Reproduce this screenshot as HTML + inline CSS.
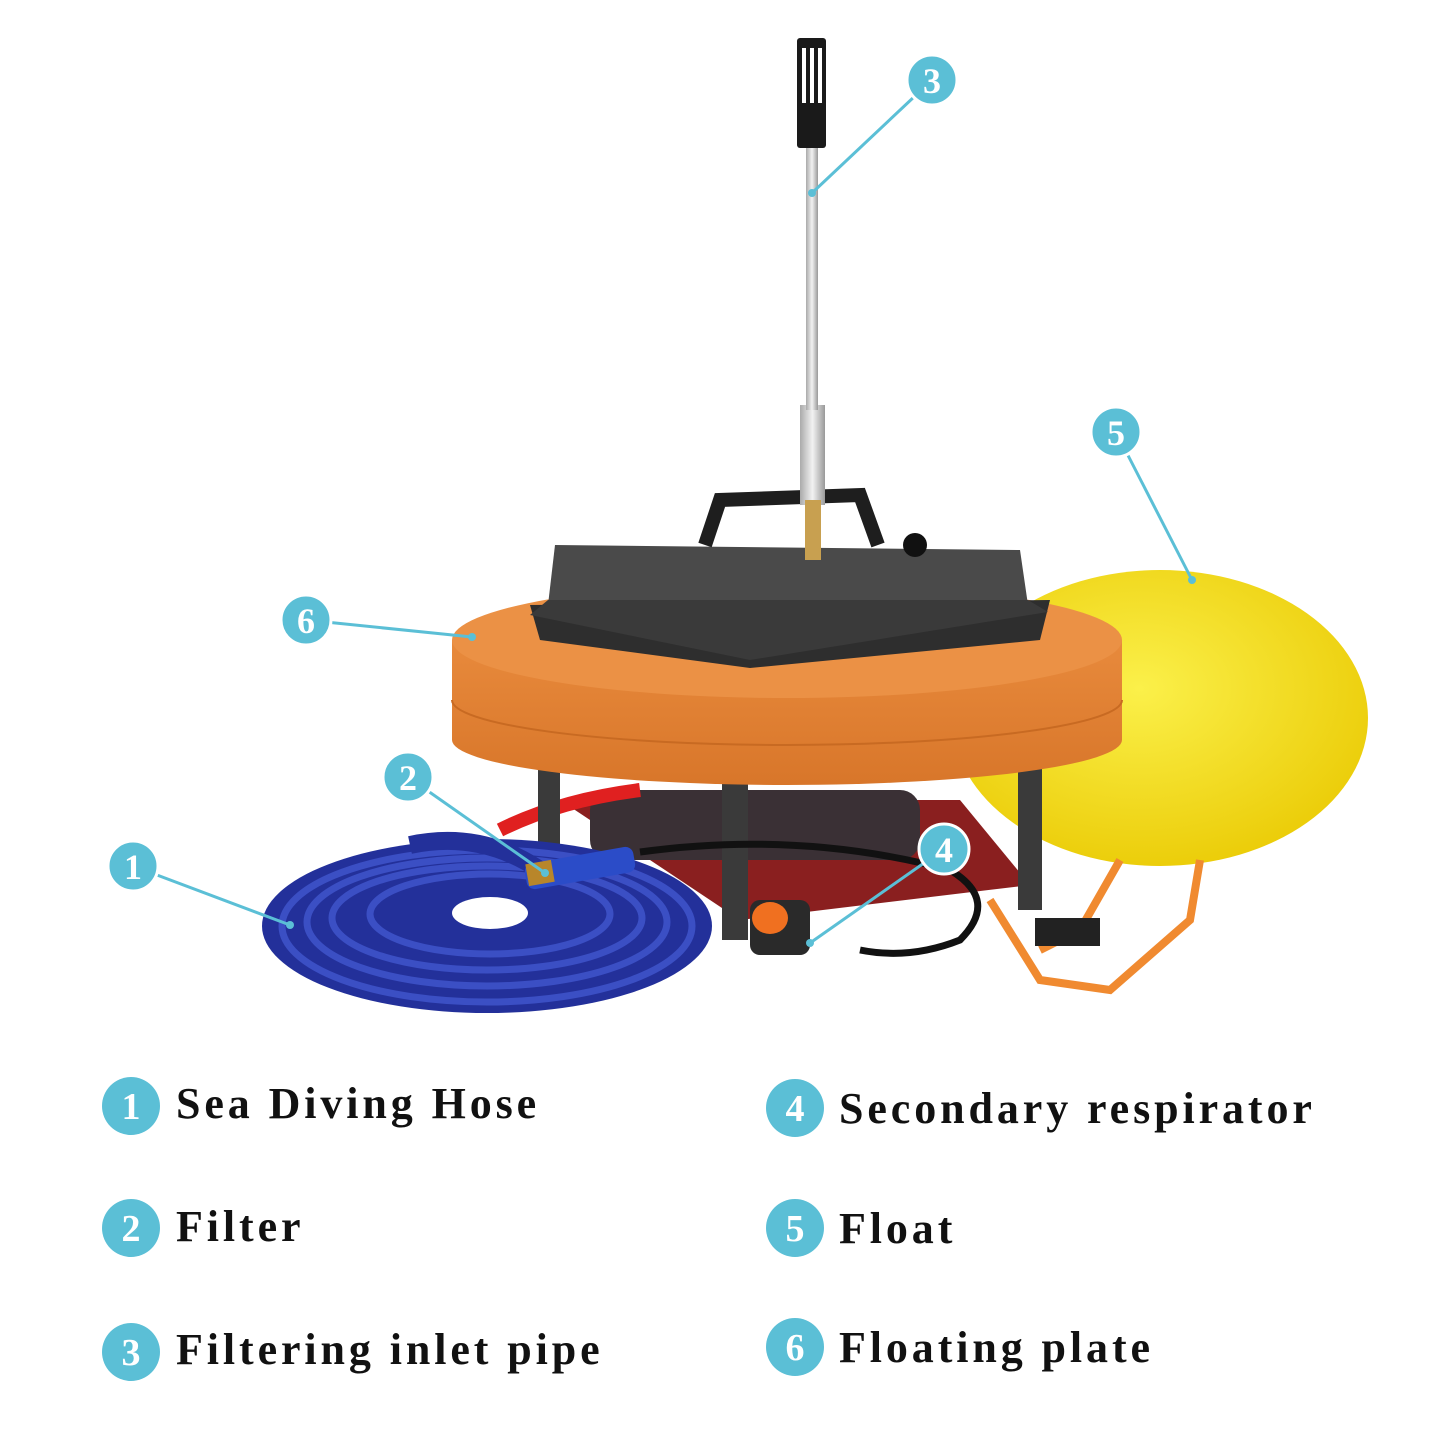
<!DOCTYPE html>
<html><head><meta charset="utf-8"><style>
html,body{margin:0;padding:0;background:#fff}
svg{display:block}
</style></head><body>
<svg width="1445" height="1445" viewBox="0 0 1445 1445" xmlns="http://www.w3.org/2000/svg">
<defs>
<radialGradient id="yel" cx="0.45" cy="0.4" r="0.7"><stop offset="0" stop-color="#fbf04a"/><stop offset="1" stop-color="#e9c800"/></radialGradient>
<linearGradient id="org" x1="0" x2="0" y1="0" y2="1"><stop offset="0" stop-color="#e88a3c"/><stop offset="1" stop-color="#d8762a"/></linearGradient>
<linearGradient id="rod" x1="0" x2="1"><stop offset="0" stop-color="#aaa"/><stop offset="0.5" stop-color="#f2f2f2"/><stop offset="1" stop-color="#999"/></linearGradient>
</defs>
<ellipse cx="1160" cy="718" rx="208" ry="148" fill="url(#yel)"/>
<path d="M1120 860 L1080 930 L1040 950 M1200 860 L1190 920 L1110 990 L1040 980 L990 900" stroke="#f08a30" stroke-width="8" fill="none"/>
<rect x="1035" y="918" width="65" height="28" fill="#222"/>
<polygon points="560,800 960,800 1030,885 740,920" fill="#8a1f1f"/>
<rect x="590" y="790" width="330" height="70" rx="20" fill="#3a3035"/>
<path d="M500 830 Q560 800 640 790" stroke="#e02020" stroke-width="14" fill="none"/>
<rect x="538" y="750" width="22" height="110" fill="#3a3a3a"/>
<rect x="722" y="760" width="26" height="180" fill="#3a3a3a"/>
<rect x="1018" y="750" width="24" height="160" fill="#3a3a3a"/>
<path d="M640 852 Q800 830 950 870 Q1000 900 960 940 Q910 960 860 950" stroke="#111" stroke-width="7" fill="none"/>
<rect x="750" y="900" width="60" height="55" rx="10" fill="#2a2a2a"/>
<ellipse cx="770" cy="918" rx="18" ry="16" fill="#f07020"/>
<ellipse cx="487" cy="926" rx="225" ry="87" fill="#23309a"/>
<g fill="none" stroke="#3b4fc4" stroke-width="7">
<ellipse cx="487" cy="926" rx="205" ry="76"/>
<ellipse cx="487" cy="922" rx="180" ry="64"/>
<ellipse cx="487" cy="918" rx="155" ry="52"/>
<ellipse cx="490" cy="914" rx="120" ry="40"/>
</g>
<ellipse cx="490" cy="913" rx="38" ry="16" fill="#fff"/>
<path d="M410 845 Q480 830 540 870" stroke="#23309a" stroke-width="18" fill="none"/>
<rect x="525" y="855" width="110" height="26" rx="8" fill="#2b4cc8" transform="rotate(-10 580 868)"/>
<rect x="527" y="862" width="26" height="22" fill="#b8862a" transform="rotate(-10 540 873)"/>
<path d="M452 640 L452 740 A335 45 0 0 0 1122 740 L1122 640 Z" fill="url(#org)"/>
<ellipse cx="787" cy="640" rx="335" ry="58" fill="#eb9145"/>
<path d="M452 700 A335 45 0 0 0 1122 700" stroke="#c86a22" stroke-width="2" fill="none"/>
<polygon points="530,605 1050,600 1040,640 750,668 540,640" fill="#2e2e2e"/>
<polygon points="555,545 1020,550 1028,605 548,605" fill="#4a4a4a"/>
<polygon points="548,600 1028,600 1048,612 750,660 530,615" fill="#3a3a3a"/>
<path d="M705 545 L720 500 L860 495 L878 545" stroke="#1e1e1e" stroke-width="14" fill="none"/>
<circle cx="915" cy="545" r="12" fill="#111"/>
<rect x="800" y="405" width="25" height="100" fill="url(#rod)"/>
<rect x="805" y="500" width="16" height="60" fill="#c8a050"/>
<rect x="806" y="140" width="12" height="270" fill="url(#rod)"/>
<rect x="797" y="38" width="29" height="110" rx="3" fill="#1a1a1a"/>
<g fill="#fff"><rect x="802" y="48" width="4" height="55"/><rect x="810" y="48" width="4" height="55"/><rect x="818" y="48" width="4" height="55"/></g>
<g stroke="#5bbfd6" stroke-width="3" fill="none">
<line x1="932" y1="80" x2="812" y2="193"/>
<line x1="1116" y1="432" x2="1192" y2="580"/>
<line x1="306" y1="620" x2="472" y2="637"/>
<line x1="408" y1="777" x2="545" y2="873"/>
<line x1="133" y1="866" x2="290" y2="925"/>
<line x1="944" y1="849" x2="810" y2="943"/>
</g>
<g fill="#5bbfd6"><circle cx="812" cy="193" r="4"/><circle cx="1192" cy="580" r="4"/><circle cx="472" cy="637" r="4"/><circle cx="545" cy="873" r="4"/><circle cx="290" cy="925" r="4"/><circle cx="810" cy="943" r="4"/></g>
<g fill="#5bbfd6" stroke="#fff" stroke-width="3">
<circle cx="932" cy="80" r="25"/><circle cx="1116" cy="432" r="25"/><circle cx="306" cy="620" r="25"/>
<circle cx="408" cy="777" r="25"/><circle cx="133" cy="866" r="25"/><circle cx="944" cy="849" r="25"/>
</g>
<g fill="#fff" font-family="Liberation Serif, serif" font-size="36" font-weight="bold" text-anchor="middle">
<text x="932" y="93">3</text><text x="1116" y="445">5</text><text x="306" y="633">6</text>
<text x="408" y="790">2</text><text x="133" y="879">1</text><text x="944" y="862">4</text>
</g>
<g fill="#5bbfd6">
<circle cx="131" cy="1106" r="29"/><circle cx="131" cy="1228" r="29"/><circle cx="131" cy="1352" r="29"/>
<circle cx="795" cy="1108" r="29"/><circle cx="795" cy="1228" r="29"/><circle cx="795" cy="1347" r="29"/>
</g>
<g fill="#fff" font-family="Liberation Serif, serif" font-size="38" font-weight="bold" text-anchor="middle">
<text x="131" y="1119">1</text><text x="131" y="1241">2</text><text x="131" y="1365">3</text>
<text x="795" y="1121">4</text><text x="795" y="1241">5</text><text x="795" y="1360">6</text>
</g>
<g fill="#111" font-family="Liberation Serif, serif" font-size="44" font-weight="bold" letter-spacing="3.9">
<text x="176" y="1118">Sea Diving Hose</text>
<text x="176" y="1241">Filter</text>
<text x="176" y="1364">Filtering inlet pipe</text>
<text x="839" y="1123">Secondary respirator</text>
<text x="839" y="1243">Float</text>
<text x="839" y="1362">Floating plate</text>
</g>
</svg>
</body></html>
